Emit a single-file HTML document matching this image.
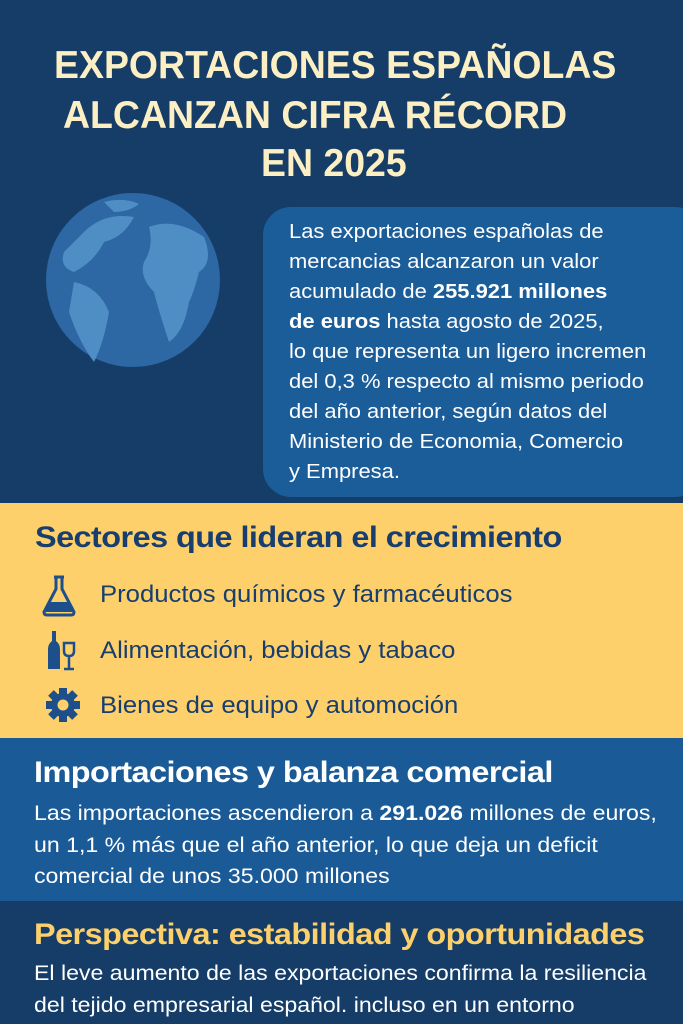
<!DOCTYPE html>
<html><head><meta charset="utf-8"><style>
*{margin:0;padding:0;box-sizing:border-box}
body{width:683px;height:1024px;overflow:hidden;font-family:"Liberation Sans","DejaVu Sans",sans-serif;background:#153d68;position:relative}
.abs{position:absolute;white-space:nowrap;transform-origin:left center}
.t{color:#fcefc4;font-weight:bold;font-size:39px;transform:scaleX(0.96)}
.box{position:absolute;left:263px;top:207px;width:440px;height:290px;background:#1b5d99;border-radius:28px}
.bt{color:#fff;font-size:20.5px;left:289px;transform:scaleX(1.07)}
.yel{position:absolute;left:0;top:503px;width:683px;height:235px;background:#fdd06b}
.blue{position:absolute;left:0;top:738px;width:683px;height:163px;background:#1a5b97}
.nav{color:#173e6e}
.h{font-size:30px;font-weight:bold;letter-spacing:-0.5px;transform:scaleX(1.08)}
.it{font-size:24px;transform:scaleX(1.07)}
.p{font-size:21px;color:#fff;transform:scaleX(1.1)}
</style></head><body>
<div class="abs t" style="top:44px;left:54px">EXPORTACIONES ESPAÑOLAS</div>
<div class="abs t" style="top:94px;left:63px">ALCANZAN CIFRA RÉCORD</div>
<div class="abs t" style="top:142px;left:261px">EN 2025</div>
<svg class="abs" style="left:44px;top:192px" width="180" height="178" viewBox="0 0 180 178">
<ellipse cx="89" cy="88" rx="87" ry="87" fill="#2d67a4"/>
<path d="M40 40 Q60 20 90 25 Q80 45 60 50 Q50 70 30 80 Q15 75 20 60Z" fill="#4f8ec4"/>
<path d="M30 90 Q55 95 65 120 Q60 150 50 170 Q35 150 25 120Z" fill="#4f8ec4"/>
<path d="M105 35 Q130 25 160 45 Q170 70 155 80 Q150 100 145 110 Q140 140 125 150 Q115 120 110 100 Q95 85 100 70 Q110 55 105 35Z" fill="#4f8ec4"/>
<path d="M60 10 Q80 5 95 12 Q85 20 70 20Z" fill="#4f8ec4"/>
</svg>
<div class="box"></div>
<div class="abs bt" style="top:220px">Las exportaciones españolas de</div>
<div class="abs bt" style="top:250px">mercancias alcanzaron un valor</div>
<div class="abs bt" style="top:280px">acumulado de <b>255.921 millones</b></div>
<div class="abs bt" style="top:310px"><b>de euros</b> hasta agosto de 2025,</div>
<div class="abs bt" style="top:340px">lo que representa un ligero incremen</div>
<div class="abs bt" style="top:370px">del 0,3 % respecto al mismo periodo</div>
<div class="abs bt" style="top:400px">del año anterior, según datos del</div>
<div class="abs bt" style="top:430px">Ministerio de Economia, Comercio</div>
<div class="abs bt" style="top:460px">y Empresa.</div>
<div class="yel"></div>
<div class="abs nav h" style="left:35px;top:521px">Sectores que lideran el crecimiento</div>
<svg class="abs" style="left:40px;top:574px" width="40" height="44"><path d="M14 3h10M16 3v12L4 38q0 3 3 3h24q3 0 3-3L22 15V3" fill="none" stroke="#1d4f8a" stroke-width="3"/><path d="M9 28h20l4 10H5Z" fill="#1d4f8a"/></svg>
<svg class="abs" style="left:46px;top:629px" width="36" height="44"><path d="M6 2h4v10q4 3 4 8v20H2V20q0-5 4-8Z" fill="#1d4f8a"/><path d="M18 14h10v8q0 5-5 5t-5-5Z" fill="none" stroke="#1d4f8a" stroke-width="2.5"/><path d="M23 27v12M18 40h10" stroke="#1d4f8a" stroke-width="2.5"/></svg>
<svg class="abs" style="left:45px;top:686px" width="36" height="38" viewBox="-18 -19 36 38"><g fill="#1d4f8a"><circle r="12"/><g id="g"><rect x="-4" y="-17" width="8" height="34"/></g><use href="#g" transform="rotate(45)"/><use href="#g" transform="rotate(90)"/><use href="#g" transform="rotate(135)"/></g><circle r="5.5" fill="#fdd06b"/></svg>
<div class="abs nav it" style="left:100px;top:581px">Productos químicos y farmacéuticos</div>
<div class="abs nav it" style="left:100px;top:637px">Alimentación, bebidas y tabaco</div>
<div class="abs nav it" style="left:100px;top:692px">Bienes de equipo y automoción</div>
<div class="blue"></div>
<div class="abs h" style="left:34px;top:756px;color:#fff">Importaciones y balanza comercial</div>
<div class="abs p" style="left:34px;top:802px">Las importaciones ascendieron a <b>291.026</b> millones de euros,</div>
<div class="abs p" style="left:34px;top:834px">un 1,1 % más que el año anterior, lo que deja un deficit</div>
<div class="abs p" style="left:34px;top:865px">comercial de unos 35.000 millones</div>
<div class="abs h" style="left:34px;top:918px;color:#fdd06b">Perspectiva: estabilidad y oportunidades</div>
<div class="abs p" style="left:34px;top:962px">El leve aumento de las exportaciones confirma la resiliencia</div>
<div class="abs p" style="left:34px;top:994px">del tejido empresarial español. incluso en un entorno</div>
</body></html>
